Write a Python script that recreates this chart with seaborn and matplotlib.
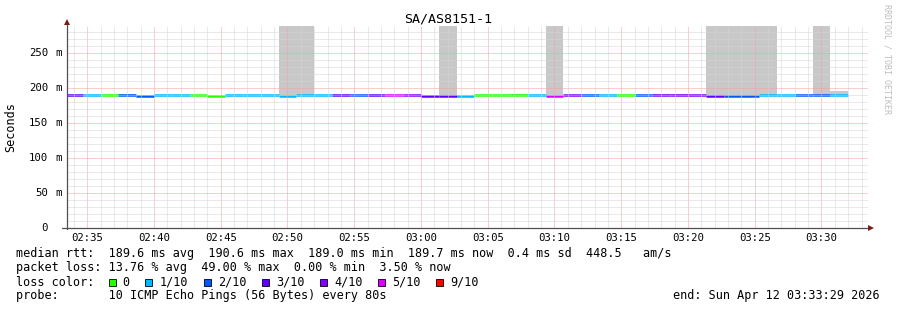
import numpy as np
import pandas as pd
import matplotlib
matplotlib.use("Agg")
import matplotlib.pyplot as plt
import matplotlib.transforms as mtransforms
from matplotlib.patches import Rectangle
from matplotlib.lines import Line2D
from matplotlib.ticker import MultipleLocator, FixedLocator, NullFormatter
import seaborn as sns

# ---------------- data ----------------
title = "SA/AS8151-1"
window_start = "02:33:29"
window_end = "03:33:29"
step_seconds = 80
first_step_end = "02:34:40"

median_ms = [189.8, 189.8, 190.4, 189.4, 188.8, 189.4, 190.3, 190.3, 189.3, 189.4,
             190.3, 189.4, 188.9, 189.4, 189.4, 189.4, 189.4, 190.2, 190.2, 189.4,
             188.9, 188.9, 188.9, 189.4, 189.4, 189.4, 189.4, 188.9, 189.4, 190.2,
             190.2, 190.2, 190.2, 189.4, 189.4, 189.4, 188.9, 188.9, 188.9, 190.2,
             190.2, 190.2, 189.4, 189.7]
loss_index = [3, 1, 0, 2, 2, 1, 1, 0, 0, 1,
              1, 1, 1, 1, 1, 3, 2, 3, 5, 4,
              3, 3, 1, 0, 0, 0, 1, 5, 4, 2,
              1, 0, 2, 4, 4, 4, 3, 2, 2, 1,
              1, 2, 2, 1]
smoke_lo_ms = [189.8, 189.8, 188.8, 189.4, 188.8, 189.4, 190.3, 190.3, 189.3, 189.4,
               190.3, 189.4, 189.6, 189.6, 189.4, 189.4, 189.4, 190.2, 190.2, 189.4,
               188.9, 189.4, 188.9, 189.4, 189.4, 189.4, 189.4, 189.4, 189.4, 190.2,
               190.2, 190.2, 190.2, 189.4, 189.4, 189.4, 189.4, 189.4, 189.4, 190.2,
               190.2, 190.2, 189.6, 189.7]
smoke_hi_ms = [189.8, 189.8, 190.4, 190.8, 188.8, 189.4, 190.3, 190.3, 189.3, 189.4,
               190.3, 189.4, 300.0, 300.0, 189.4, 189.4, 189.4, 190.2, 190.2, 189.4,
               188.9, 300.0, 188.9, 189.4, 189.4, 191.0, 189.4, 300.0, 189.4, 190.2,
               190.2, 190.2, 190.2, 191.0, 191.0, 189.4, 300.0, 300.0, 300.0, 300.0,
               190.2, 190.2, 300.0, 196.0]

loss_labels = ["0", "1/10", "2/10", "3/10", "4/10", "5/10", "9/10"]
loss_colors = ["#26ff00", "#00b8ff", "#0059ff", "#5e00ff", "#7e00ff", "#dd00ff", "#ff0000"]

xtick_labels = ["02:35", "02:40", "02:45", "02:50", "02:55", "03:00",
                "03:05", "03:10", "03:15", "03:20", "03:25", "03:30"]
ytick_values_ms = [0, 50, 100, 150, 200, 250]
ytick_numbers = ["0", "50", "100", "150", "200", "250"]
ytick_units = ["", "m", "m", "m", "m", "m"]
y_top_ms = 288.6

legend_lines = [
    "median rtt:  189.6 ms avg  190.6 ms max  189.0 ms min  189.7 ms now  0.4 ms sd  448.5   am/s",
    "packet loss: 13.76 % avg  49.00 % max  0.00 % min  3.50 % now",
]
loss_caption = "loss color:"
probe_text = "probe:       10 ICMP Echo Pings (56 Bytes) every 80s"
end_text = "end: Sun Apr 12 03:33:29 2026"
ylabel = "Seconds"
watermark = "RRDTOOL / TOBI OETIKER"


def to_sec(s):
    parts = [int(p) for p in s.split(":")]
    while len(parts) < 3:
        parts.append(0)
    return parts[0] * 3600 + parts[1] * 60 + parts[2]


# ---------------- style ----------------
sns.set_theme(style="white")
plt.rcParams["font.family"] = ["DejaVu Sans Mono", "DejaVu Sans"]
plt.rcParams["text.color"] = "#000000"

W, H = 897, 310
fig = plt.figure(figsize=(W / 100, H / 100), dpi=100)
fig.patch.set_facecolor("white")
ax = fig.add_axes([67 / W, 1 - 228 / H, 801 / W, 202 / H])
ax.set_facecolor("white")

t0 = to_sec(window_start)
t1 = to_sec(window_end)
n = len(median_ms)
ends = to_sec(first_step_end) + step_seconds * np.arange(n)
starts = ends - step_seconds

# smoke
lo = np.array(smoke_lo_ms) / 1000
hi = np.array(smoke_hi_ms) / 1000
ax.bar(starts, hi - lo, bottom=lo, width=step_seconds, align="edge",
       color="#c8c8c8", linewidth=0, zorder=1)

# median line, coloured by loss
rows = []
for k in range(n):
    lab = loss_labels[loss_index[k]]
    rows.append({"seg": k, "t": starts[k], "rtt": median_ms[k] / 1000, "loss": lab})
    rows.append({"seg": k, "t": ends[k], "rtt": median_ms[k] / 1000, "loss": lab})
df = pd.DataFrame(rows)
sns.lineplot(data=df, x="t", y="rtt", hue="loss", units="seg", estimator=None,
             palette=dict(zip(loss_labels, loss_colors)), hue_order=loss_labels,
             legend=False, linewidth=1.8, sort=False, ax=ax,
             solid_capstyle="butt", zorder=2)

ax.set_xlim(t0, t1)
ax.set_ylim(0, y_top_ms / 1000)
ax.set_xlabel("")
ax.set_ylabel("")

# ticks / grid
ax.xaxis.set_major_locator(FixedLocator([to_sec(l) for l in xtick_labels]))
ax.set_xticklabels(xtick_labels)
ax.xaxis.set_minor_locator(MultipleLocator(60))
ax.yaxis.set_major_locator(FixedLocator([v / 1000 for v in ytick_values_ms]))
ax.yaxis.set_minor_locator(MultipleLocator(0.01))
ax.yaxis.set_major_formatter(NullFormatter())
ax.grid(which="major", color="#f2a0a0", linestyle=(0, (1, 1)), linewidth=0.72)
ax.grid(which="minor", color="#d4d4d4", linestyle=(0, (1, 1)), linewidth=0.72)
ax.set_axisbelow(False)
ax.tick_params(axis="both", which="major", length=2.2, width=0.72, color="#707070",
               direction="out", pad=1.5, labelsize=7.65, labelcolor="#000000")
ax.tick_params(axis="both", which="minor", length=1.4, width=0.72, color="#909090",
               direction="out")
for s in ax.spines.values():
    s.set_visible(False)

# y tick labels, rrdtool-style two columns
num_tr = ax.get_yaxis_transform() + mtransforms.ScaledTranslation(-19 / 100, 0, fig.dpi_scale_trans)
unit_tr = ax.get_yaxis_transform() + mtransforms.ScaledTranslation(-12 / 100, 0, fig.dpi_scale_trans)
for v, num, unit in zip(ytick_values_ms, ytick_numbers, ytick_units):
    ax.text(0, v / 1000, num, transform=num_tr, ha="right", va="center",
            fontsize=7.65, clip_on=False)
    if unit:
        ax.text(0, v / 1000, unit, transform=unit_tr, ha="left", va="center",
                fontsize=7.65, clip_on=False)

# axes lines with arrows
ax.add_line(Line2D([0, 0], [-0.004, 1.02], transform=ax.transAxes, color="#505050",
                   linewidth=0.9, clip_on=False, zorder=5))
ax.add_line(Line2D([-0.0065, 1.0025], [0, 0], transform=ax.transAxes, color="#505050",
                   linewidth=0.9, clip_on=False, zorder=5))
ax.plot([0], [1.022], marker="^", markersize=4, color="#7f1a1a", transform=ax.transAxes,
        clip_on=False, zorder=6, markeredgewidth=0)
ax.plot([1.0035], [0], marker=">", markersize=4, color="#7f1a1a", transform=ax.transAxes,
        clip_on=False, zorder=6, markeredgewidth=0)

# texts
def fx(px):
    return px / W


def fy(py):
    return 1 - py / H


fig.text(fx(448), fy(19), title, ha="center", va="center", fontsize=9.6)
fig.text(fx(11), fy(127), ylabel, rotation=90, ha="center", va="center", fontsize=8.5)
fig.text(fx(886.5), fy(4), watermark, rotation=270, ha="center", va="top",
         fontsize=6, color="#bdbdbd")

fs = 8.5
cw = 7.1
fig.text(fx(16), fy(254), legend_lines[0], ha="left", va="center", fontsize=fs)
fig.text(fx(16), fy(268), legend_lines[1], ha="left", va="center", fontsize=fs)
fig.text(fx(16), fy(282), loss_caption, ha="left", va="center", fontsize=fs)
cursor = 108.5
for lab, col in zip(loss_labels, loss_colors):
    fig.add_artist(Rectangle((fx(cursor), fy(286)), 7 / W, 7 / H, transform=fig.transFigure,
                             facecolor=col, edgecolor="#000000", linewidth=0.6))
    fig.text(fx(cursor + 14.2), fy(282), lab, ha="left", va="center", fontsize=fs)
    cursor = cursor + 14.2 + len(lab) * cw + 15.6
fig.text(fx(16), fy(296), probe_text, ha="left", va="center", fontsize=fs)
fig.text(fx(880), fy(296), end_text, ha="right", va="center", fontsize=fs)

fig.savefig("out.png", dpi=100, facecolor="white")
